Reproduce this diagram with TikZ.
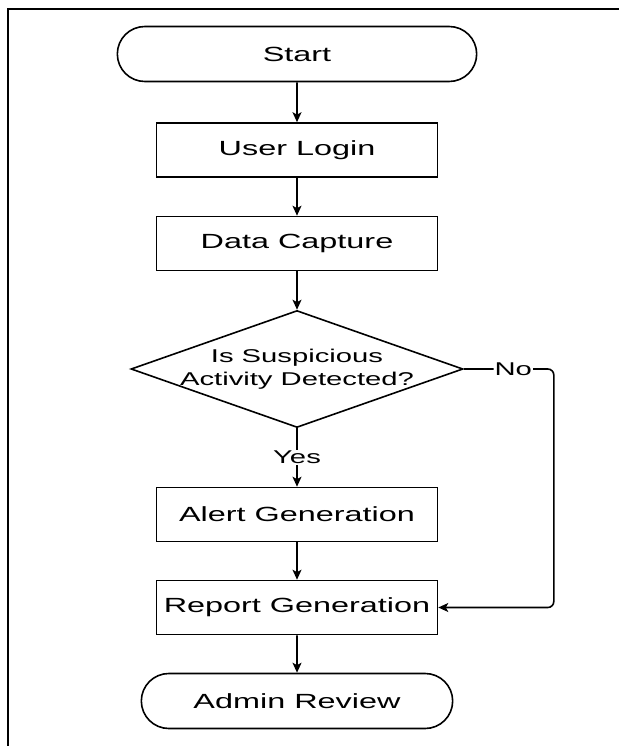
\documentclass[tikz,border=0pt]{standalone}
\usepackage{fontspec}
\setmainfont{Liberation Sans}[FakeStretch=1.58]
\usetikzlibrary{arrows.meta,positioning,shapes.geometric,shapes.misc}
\tikzset{
    term/.style =   {rounded rectangle,
                    fill=white,
                    draw=black,
                    text=black,
                    line width=1.6pt,
                    minimum height=55pt,
                    font=\fontsize{20.5}{24}\selectfont},
    proc/.style =   {rectangle,
                    fill=white,
                    draw=black,
                    text=black,
                    line width=1.6pt,
                    minimum width=281pt,
                    minimum height=54pt,
                    font=\fontsize{20.5}{24}\selectfont},
    decision/.style = {diamond,
                    aspect=2.84,
                    fill=white,
                    draw=black,
                    text=black,
                    line width=1.6pt,
                    inner sep=-8pt,
                    minimum width=332pt,
                    minimum height=117pt,
                    align=center,
                    font=\fontsize{18.5}{23}\selectfont},
    lbl/.style =    {fill=white,
                    text=black,
                    inner sep=1pt,
                    font=\fontsize{18.5}{22}\selectfont},
    -,
    >={Stealth[length=10pt,width=9pt,inset=2.5pt]},
    node distance=93.5pt,
    draw=black}
\begin{document}
\begin{tikzpicture}
                \useasboundingbox (0pt,0pt) rectangle (618pt,-746pt);
                \draw [line width=2pt] (8pt,-750pt) -- (8pt,-9pt) -- (622pt,-9pt);

                \node[term,minimum width=366pt] (start) at (297pt,-54pt) {Start};
                \node[proc]     (login)   [below of=start,node distance=96pt]     {User Login};
                \node[proc]     (capture) [below of=login]                        {Data Capture};
                \node[decision] (check)   [below of=capture,node distance=125.5pt] {Is Suspicious\\Activity Detected?};
                \node[proc]     (alert)   [below of=check,node distance=145.5pt]  {Alert Generation};
                \node[proc]     (report)  [below of=alert,node distance=93pt]     {Report Generation};
                \node[term,minimum width=318pt] (review) [below of=report]        {Admin Review};

                \path [line width=1.6pt,->] (start)   edge []  node [] {} (login)
                                            (login)   edge []  node [] {} (capture)
                                            (capture) edge []  node [] {} (check)
                                            (check)   edge []  node [lbl] {Yes} (alert)
                                            (alert)   edge []  node [] {} (report)
                                            (report)  edge []  node [] {} (review);
                \draw [line width=1.6pt,->,rounded corners=6pt] (check.east) -- node [lbl,pos=.55] {No} ++(90pt,0pt) |- (report.east);
        \end{tikzpicture}
\end{document}
